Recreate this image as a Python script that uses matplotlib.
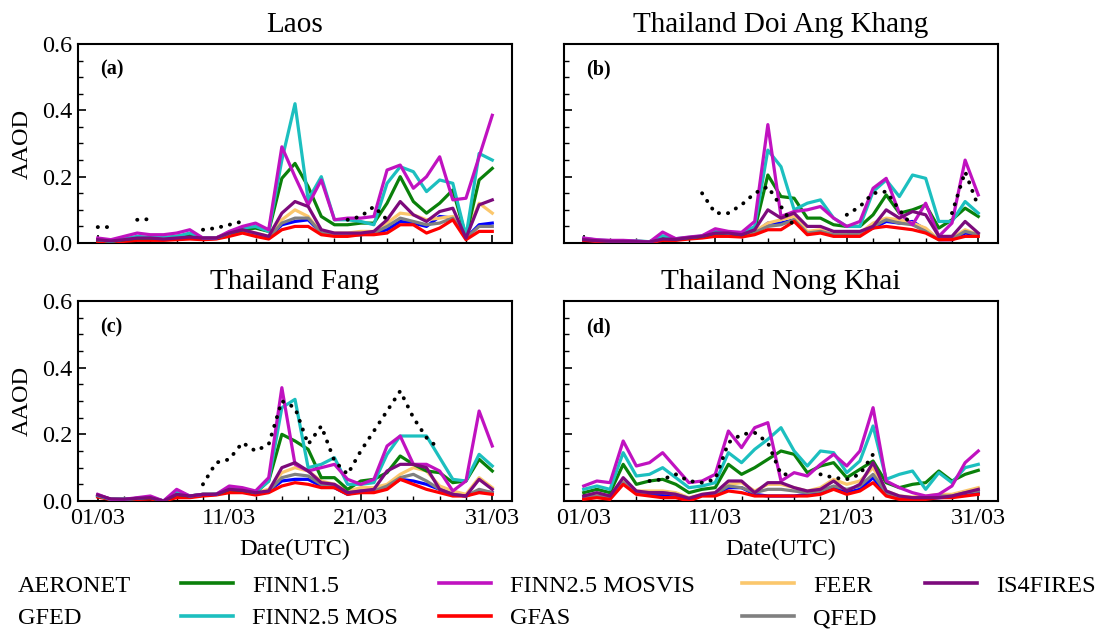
import numpy as np
import matplotlib
matplotlib.use("Agg")
import matplotlib.pyplot as plt
from matplotlib.ticker import MultipleLocator, FixedLocator

nan = np.nan
plt.rcParams['font.family'] = ['Liberation Serif', 'DejaVu Serif']

days = list(range(1, 32))
xtick_pos = [1, 11, 21, 31]
xtick_labels = ["01/03", "11/03", "21/03", "31/03"]
titles = ["Laos", "Thailand Doi Ang Khang", "Thailand Fang", "Thailand Nong Khai"]
panel_tags = ["(a)", "(b)", "(c)", "(d)"]
series_names = ["AERONET", "GFED", "FINN1.5", "FINN2.5 MOS", "FINN2.5 MOSVIS",
                "GFAS", "FEER", "QFED", "IS4FIRES"]

# ---------------- Panel (a) Laos ----------------
AERONET_a = [0.048, 0.048, nan, 0.07, 0.072, nan, nan, nan, 0.04, 0.045, 0.055, 0.065, nan, nan, nan,
             nan, nan, nan, nan, 0.07, 0.08, 0.11, 0.07, nan, nan, nan, nan, nan, nan, nan, nan]
GFED_a = [0.01, 0.005, 0.008, 0.012, 0.012, 0.01, 0.012, 0.015, 0.012, 0.014, 0.025, 0.035, 0.025, 0.015, 0.055,
          0.065, 0.07, 0.03, 0.025, 0.025, 0.025, 0.03, 0.04, 0.065, 0.06, 0.05, 0.08, 0.075, 0.015, 0.055, 0.06]
FINN15_a = [0.01, 0.005, 0.01, 0.015, 0.015, 0.015, 0.02, 0.025, 0.015, 0.015, 0.03, 0.04, 0.045, 0.035, 0.195,
            0.24, 0.17, 0.08, 0.055, 0.055, 0.06, 0.06, 0.12, 0.2, 0.125, 0.09, 0.12, 0.16, 0.02, 0.19, 0.225]
FINN25MOS_a = [0.01, 0.005, 0.012, 0.02, 0.017, 0.017, 0.02, 0.03, 0.015, 0.015, 0.03, 0.045, 0.05, 0.035, 0.25,
               0.42, 0.13, 0.2, 0.07, 0.07, 0.065, 0.055, 0.18, 0.23, 0.215, 0.155, 0.19, 0.18, 0.02, 0.27, 0.25]
FINN25MOSVIS_a = [0.015, 0.01, 0.02, 0.03, 0.025, 0.025, 0.03, 0.04, 0.015, 0.015, 0.035, 0.05, 0.06, 0.04, 0.29,
                  0.2, 0.115, 0.19, 0.07, 0.075, 0.075, 0.08, 0.22, 0.235, 0.165, 0.2, 0.26, 0.13, 0.135, 0.26, 0.385]
GFAS_a = [0.005, 0.003, 0.005, 0.008, 0.008, 0.008, 0.01, 0.012, 0.01, 0.012, 0.02, 0.03, 0.02, 0.012, 0.04,
          0.05, 0.05, 0.025, 0.02, 0.02, 0.025, 0.025, 0.03, 0.055, 0.055, 0.03, 0.045, 0.07, 0.01, 0.035, 0.035]
FEER_a = [0.01, 0.006, 0.01, 0.014, 0.014, 0.012, 0.015, 0.018, 0.014, 0.015, 0.03, 0.04, 0.03, 0.02, 0.07,
          0.1, 0.08, 0.03, 0.03, 0.03, 0.035, 0.035, 0.06, 0.09, 0.085, 0.07, 0.075, 0.08, 0.02, 0.12, 0.09]
QFED_a = [0.008, 0.005, 0.008, 0.012, 0.012, 0.01, 0.012, 0.015, 0.012, 0.014, 0.025, 0.035, 0.025, 0.015, 0.06,
          0.075, 0.075, 0.03, 0.025, 0.025, 0.025, 0.03, 0.05, 0.075, 0.065, 0.055, 0.06, 0.075, 0.015, 0.05, 0.05]
IS4FIRES_a = [0.01, 0.006, 0.01, 0.015, 0.015, 0.012, 0.015, 0.018, 0.015, 0.015, 0.03, 0.04, 0.03, 0.02, 0.09,
              0.125, 0.11, 0.04, 0.03, 0.03, 0.03, 0.035, 0.07, 0.125, 0.085, 0.065, 0.095, 0.105, 0.015, 0.115, 0.13]

# ---------------- Panel (b) Doi Ang Khang ----------------
AERONET_b = [nan, nan, nan, nan, nan, nan, nan, nan, nan, 0.15, 0.09, 0.09, 0.115, 0.15, 0.17,
             0.11, 0.05, nan, nan, nan, 0.085, 0.11, 0.15, 0.155, 0.1, 0.05, nan, nan, 0.09, 0.215, 0.11]
GFED_b = [0.01, 0.006, 0.005, 0.005, 0.004, 0.003, 0.01, 0.01, 0.015, 0.02, 0.025, 0.025, 0.02, 0.03, 0.06,
          0.06, 0.07, 0.03, 0.035, 0.025, 0.025, 0.03, 0.045, 0.065, 0.06, 0.065, 0.04, 0.01, 0.01, 0.03, 0.025]
FINN15_b = [0.012, 0.008, 0.006, 0.006, 0.005, 0.004, 0.015, 0.012, 0.016, 0.02, 0.03, 0.03, 0.025, 0.04, 0.205,
            0.14, 0.135, 0.075, 0.075, 0.055, 0.05, 0.05, 0.085, 0.145, 0.09, 0.1, 0.115, 0.045, 0.07, 0.105, 0.08]
FINN25MOS_b = [0.014, 0.009, 0.007, 0.007, 0.006, 0.004, 0.022, 0.013, 0.017, 0.021, 0.035, 0.03, 0.028, 0.05, 0.28,
               0.23, 0.1, 0.12, 0.13, 0.075, 0.05, 0.05, 0.155, 0.19, 0.14, 0.205, 0.195, 0.065, 0.065, 0.125, 0.09]
FINN25MOSVIS_b = [0.015, 0.01, 0.008, 0.008, 0.006, 0.003, 0.033, 0.013, 0.018, 0.022, 0.043, 0.035, 0.032, 0.065, 0.357,
                  0.08, 0.095, 0.1, 0.11, 0.075, 0.05, 0.065, 0.165, 0.195, 0.09, 0.055, 0.12, 0.02, 0.06, 0.25, 0.145]
GFAS_b = [0.008, 0.005, 0.004, 0.004, 0.003, 0.002, 0.008, 0.008, 0.012, 0.015, 0.02, 0.02, 0.018, 0.025, 0.04,
          0.04, 0.065, 0.025, 0.03, 0.02, 0.02, 0.02, 0.045, 0.05, 0.045, 0.04, 0.03, 0.01, 0.01, 0.02, 0.02]
FEER_b = [0.01, 0.007, 0.005, 0.005, 0.004, 0.003, 0.01, 0.01, 0.015, 0.02, 0.028, 0.028, 0.022, 0.035, 0.06,
          0.07, 0.08, 0.035, 0.04, 0.025, 0.025, 0.03, 0.06, 0.075, 0.07, 0.06, 0.045, 0.01, 0.015, 0.04, 0.025]
QFED_b = [0.009, 0.006, 0.005, 0.005, 0.004, 0.003, 0.01, 0.01, 0.015, 0.02, 0.025, 0.025, 0.02, 0.032, 0.05,
          0.055, 0.07, 0.03, 0.035, 0.025, 0.025, 0.03, 0.05, 0.07, 0.06, 0.055, 0.035, 0.01, 0.012, 0.035, 0.025]
IS4FIRES_b = [0.01, 0.007, 0.005, 0.005, 0.004, 0.003, 0.012, 0.011, 0.016, 0.02, 0.03, 0.03, 0.025, 0.04, 0.1,
              0.075, 0.09, 0.05, 0.05, 0.035, 0.035, 0.035, 0.05, 0.1, 0.075, 0.095, 0.085, 0.02, 0.02, 0.065, 0.03]

# ---------------- Panel (c) Fang ----------------
AERONET_c = [nan, nan, nan, nan, nan, nan, nan, nan, 0.05, 0.115, 0.125, 0.175, 0.15, 0.17, 0.3,
             0.28, 0.17, 0.225, 0.12, 0.08, 0.15, 0.21, 0.27, 0.33, 0.25, 0.19, 0.155, nan, nan, nan, nan]
GFED_c = [0.015, 0.005, 0.005, 0.006, 0.008, 0.0, 0.015, 0.012, 0.018, 0.02, 0.03, 0.028, 0.02, 0.03, 0.06,
          0.065, 0.065, 0.045, 0.04, 0.02, 0.03, 0.03, 0.04, 0.065, 0.06, 0.05, 0.035, 0.02, 0.015, 0.03, 0.025]
FINN15_c = [0.018, 0.005, 0.005, 0.008, 0.01, 0.0, 0.02, 0.015, 0.02, 0.02, 0.035, 0.032, 0.025, 0.06, 0.2,
            0.18, 0.155, 0.07, 0.07, 0.035, 0.06, 0.065, 0.085, 0.135, 0.11, 0.09, 0.085, 0.055, 0.06, 0.125, 0.09]
FINN25MOS_c = [0.016, 0.005, 0.005, 0.008, 0.012, 0.0, 0.03, 0.015, 0.02, 0.02, 0.04, 0.035, 0.025, 0.06, 0.28,
               0.305, 0.1, 0.11, 0.13, 0.05, 0.05, 0.055, 0.14, 0.195, 0.195, 0.195, 0.13, 0.065, 0.06, 0.14, 0.105]
FINN25MOSVIS_c = [0.02, 0.005, 0.005, 0.01, 0.015, 0.0, 0.035, 0.015, 0.02, 0.02, 0.045, 0.04, 0.03, 0.07, 0.34,
                  0.11, 0.09, 0.1, 0.11, 0.065, 0.05, 0.065, 0.165, 0.195, 0.11, 0.11, 0.09, 0.03, 0.06, 0.27, 0.165]
GFAS_c = [0.012, 0.004, 0.004, 0.005, 0.006, 0.0, 0.01, 0.01, 0.015, 0.018, 0.025, 0.025, 0.018, 0.025, 0.045,
          0.055, 0.05, 0.04, 0.04, 0.02, 0.025, 0.025, 0.035, 0.065, 0.05, 0.035, 0.025, 0.015, 0.015, 0.025, 0.02]
FEER_c = [0.016, 0.005, 0.005, 0.007, 0.009, 0.0, 0.015, 0.013, 0.02, 0.02, 0.035, 0.032, 0.025, 0.035, 0.085,
          0.1, 0.09, 0.06, 0.05, 0.03, 0.04, 0.04, 0.05, 0.08, 0.1, 0.09, 0.045, 0.03, 0.02, 0.07, 0.04]
QFED_c = [0.015, 0.005, 0.005, 0.006, 0.008, 0.0, 0.015, 0.012, 0.018, 0.02, 0.03, 0.03, 0.022, 0.03, 0.07,
          0.08, 0.075, 0.05, 0.045, 0.025, 0.03, 0.03, 0.045, 0.07, 0.08, 0.06, 0.035, 0.02, 0.015, 0.035, 0.025]
IS4FIRES_c = [0.018, 0.006, 0.005, 0.008, 0.01, 0.0, 0.02, 0.015, 0.02, 0.02, 0.035, 0.032, 0.025, 0.03, 0.1,
              0.115, 0.09, 0.055, 0.05, 0.025, 0.03, 0.035, 0.09, 0.11, 0.11, 0.1, 0.035, 0.02, 0.015, 0.065, 0.035]

# ---------------- Panel (d) Nong Khai ----------------
AERONET_d = [nan, nan, nan, nan, nan, 0.06, 0.065, 0.08, 0.06, 0.055, 0.065, 0.175, 0.2, 0.205, 0.175,
             0.08, 0.08, nan, 0.08, 0.07, 0.065, 0.08, 0.14, nan, nan, nan, nan, nan, nan, nan, nan]
GFED_d = [0.008, 0.012, 0.008, 0.055, 0.025, 0.02, 0.018, 0.015, 0.005, 0.018, 0.02, 0.04, 0.04, 0.02, 0.015,
          0.015, 0.015, 0.02, 0.025, 0.04, 0.025, 0.035, 0.07, 0.02, 0.01, 0.008, 0.008, 0.01, 0.012, 0.02, 0.025]
FINN15_d = [0.025, 0.035, 0.025, 0.11, 0.05, 0.06, 0.065, 0.05, 0.025, 0.035, 0.04, 0.11, 0.08, 0.1, 0.125,
            0.15, 0.14, 0.085, 0.105, 0.115, 0.07, 0.095, 0.12, 0.055, 0.04, 0.05, 0.055, 0.09, 0.06, 0.08, 0.092]
FINN25MOS_d = [0.035, 0.045, 0.035, 0.145, 0.075, 0.08, 0.1, 0.07, 0.04, 0.045, 0.055, 0.145, 0.115, 0.155, 0.185,
               0.22, 0.15, 0.105, 0.15, 0.145, 0.085, 0.12, 0.225, 0.065, 0.08, 0.09, 0.035, 0.085, 0.055, 0.1, 0.11]
FINN25MOSVIS_d = [0.045, 0.06, 0.055, 0.18, 0.105, 0.115, 0.145, 0.1, 0.055, 0.06, 0.08, 0.21, 0.16, 0.22, 0.235,
                  0.06, 0.085, 0.075, 0.11, 0.14, 0.105, 0.15, 0.28, 0.06, 0.04, 0.025, 0.015, 0.02, 0.045, 0.115, 0.15]
GFAS_d = [0.005, 0.01, 0.005, 0.05, 0.02, 0.015, 0.01, 0.01, 0.0, 0.015, 0.015, 0.03, 0.025, 0.015, 0.015,
          0.015, 0.015, 0.015, 0.02, 0.035, 0.02, 0.03, 0.055, 0.015, 0.005, 0.005, 0.005, 0.01, 0.01, 0.015, 0.02]
FEER_d = [0.012, 0.018, 0.012, 0.06, 0.03, 0.03, 0.03, 0.025, 0.01, 0.02, 0.025, 0.05, 0.055, 0.03, 0.05,
          0.05, 0.04, 0.03, 0.04, 0.065, 0.05, 0.06, 0.1, 0.03, 0.015, 0.012, 0.015, 0.02, 0.02, 0.03, 0.04]
QFED_d = [0.01, 0.015, 0.01, 0.055, 0.025, 0.025, 0.025, 0.02, 0.008, 0.018, 0.022, 0.045, 0.04, 0.025, 0.035,
          0.035, 0.03, 0.025, 0.03, 0.045, 0.035, 0.045, 0.08, 0.025, 0.012, 0.01, 0.01, 0.015, 0.015, 0.025, 0.03]
IS4FIRES_d = [0.015, 0.025, 0.015, 0.07, 0.03, 0.025, 0.025, 0.02, 0.008, 0.02, 0.025, 0.06, 0.06, 0.025, 0.055,
              0.055, 0.04, 0.03, 0.035, 0.06, 0.03, 0.05, 0.115, 0.03, 0.015, 0.01, 0.01, 0.01, 0.015, 0.025, 0.035]

panels = [
    [AERONET_a, GFED_a, FINN15_a, FINN25MOS_a, FINN25MOSVIS_a, GFAS_a, FEER_a, QFED_a, IS4FIRES_a],
    [AERONET_b, GFED_b, FINN15_b, FINN25MOS_b, FINN25MOSVIS_b, GFAS_b, FEER_b, QFED_b, IS4FIRES_b],
    [AERONET_c, GFED_c, FINN15_c, FINN25MOS_c, FINN25MOSVIS_c, GFAS_c, FEER_c, QFED_c, IS4FIRES_c],
    [AERONET_d, GFED_d, FINN15_d, FINN25MOS_d, FINN25MOSVIS_d, GFAS_d, FEER_d, QFED_d, IS4FIRES_d],
]

colors = ["black", "#0000ff", "#0a800a", "#1cbfbf", "#c012c0", "#ff0000", "#fbc76c", "#808080", "#7c0a7c"]
zorders = [10, 3, 4, 5, 6, 3.5, 3.2, 3.3, 7]

W, H = 1100, 631
fig = plt.figure(figsize=(W / 100, H / 100), dpi=100)

# axes boxes in pixels: left, top, right, bottom
boxes = [(78, 44, 512, 243), (564, 44, 998, 243), (78, 301, 512, 501), (564, 301, 998, 501)]

axes = []
for i, (l, t, r, b) in enumerate(boxes):
    ax = fig.add_axes([l / W, 1 - b / H, (r - l) / W, (b - t) / H])
    axes.append(ax)
    for j, (name, vals) in enumerate(zip(series_names, panels[i])):
        if name == "AERONET":
            ax.plot(days, vals, color=colors[j], lw=2.8, ls=(0, (0.05, 2.3)),
                    dash_capstyle='round', zorder=zorders[j], label=name)
        else:
            ax.plot(days, vals, color=colors[j], lw=2.3, zorder=zorders[j], label=name)
    ax.set_xlim(-0.5, 32.5)
    ax.set_ylim(0, 0.6)
    ax.yaxis.set_major_locator(FixedLocator([0.0, 0.2, 0.4, 0.6]))
    ax.yaxis.set_minor_locator(MultipleLocator(0.05))
    ax.xaxis.set_major_locator(FixedLocator(xtick_pos))
    ax.xaxis.set_minor_locator(FixedLocator(list(range(1, 32, 2))))
    ax.tick_params(axis='both', which='major', direction='in', length=6, width=1.2, labelsize=17.5)
    ax.tick_params(axis='both', which='minor', direction='in', length=3.5, width=1.0)
    ax.tick_params(axis='x', which='major', pad=5)
    ax.tick_params(axis='y', which='major', pad=4)
    for sp in ax.spines.values():
        sp.set_linewidth(1.5)
    ax.set_title(titles[i], fontsize=21, pad=8.4)
    ax.text(0.05, 0.87, panel_tags[i], transform=ax.transAxes, fontsize=14.5,
            fontweight='bold', va='center', ha='left')
    if i in (0, 2):
        ax.set_yticklabels(["0.0", "0.2", "0.4", "0.6"])
        ax.set_ylabel("AAOD", fontsize=17.5, labelpad=7)
    else:
        ax.set_yticklabels([])
    if i in (2, 3):
        ax.set_xticklabels(xtick_labels)
        ax.set_xlabel("Date(UTC)", fontsize=17.5, labelpad=7)
    else:
        ax.set_xticklabels([])

handles, labels = axes[0].get_legend_handles_labels()

# Legend: five columns, each a small legend placed at the measured column position
text_x_targets = [17.5, 252, 510, 813, 996]
row1_y = 586.0
legs = []
for c in range(5):
    hs = handles[2 * c:2 * c + 2]
    ls = labels[2 * c:2 * c + 2]
    leg = fig.legend(hs, ls, loc='upper left', bbox_to_anchor=(0.0, 0.1),
                     frameon=False, fontsize=17.5, handlelength=2.14,
                     handletextpad=0.78, labelspacing=0.45, borderpad=0.0)
    for lh in leg.get_lines():
        lh.set_linewidth(2.6)
    legs.append(leg)

fig.canvas.draw()
r = fig.canvas.get_renderer()
for c, leg in enumerate(legs):
    bb = leg.get_texts()[0].get_window_extent(r)
    dx = text_x_targets[c] - bb.x0
    cy = (bb.y0 + bb.y1) / 2.0
    dy = (H - row1_y) - cy
    leg.set_bbox_to_anchor((dx / W, 0.1 + dy / H), transform=fig.transFigure)

fig.savefig("out.png", dpi=100)
